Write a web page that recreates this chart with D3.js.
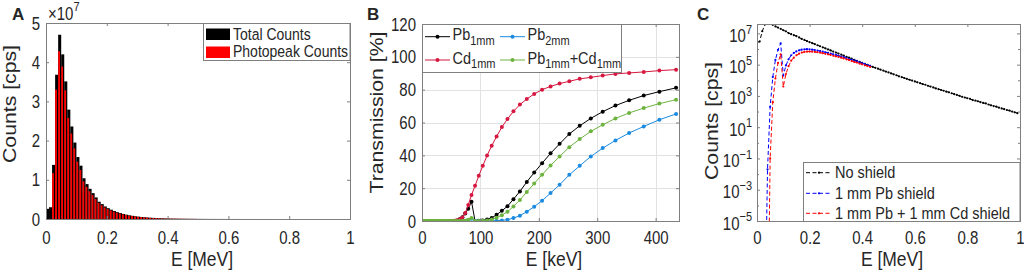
<!DOCTYPE html>
<html lang="en">
<head>
<meta charset="UTF-8">
<title>Counts and transmission</title>
<script src="https://cdn.jsdelivr.net/npm/d3@7"></script>
<style>
    body { margin: 0; background: #fff; }
    svg { display: block; }
</style>
</head>
<body>
<script>
    // ---- panel A / C : spectrum in 0.01 MeV bins (left edge of each bin) ----
    var binEnergy = [
        0.00, 0.01, 0.02, 0.03, 0.04, 0.05, 0.06, 0.07, 0.08, 0.09,
        0.10, 0.11, 0.12, 0.13, 0.14, 0.15, 0.16, 0.17, 0.18, 0.19,
        0.20, 0.21, 0.22, 0.23, 0.24, 0.25, 0.26, 0.27, 0.28, 0.29,
        0.30, 0.31, 0.32, 0.33, 0.34, 0.35, 0.36, 0.37, 0.38, 0.39,
        0.40, 0.41, 0.42, 0.43, 0.44, 0.45, 0.46, 0.47, 0.48, 0.49,
        0.50, 0.51, 0.52, 0.53, 0.54, 0.55, 0.56, 0.57, 0.58, 0.59,
        0.60, 0.61, 0.62, 0.63, 0.64, 0.65, 0.66, 0.67, 0.68, 0.69,
        0.70, 0.71, 0.72, 0.73, 0.74, 0.75, 0.76, 0.77, 0.78, 0.79,
        0.80, 0.81, 0.82, 0.83, 0.84, 0.85, 0.86, 0.87, 0.88, 0.89,
        0.90, 0.91, 0.92, 0.93, 0.94, 0.95, 0.96, 0.97, 0.98, 0.99
    ];
    // total counts (cps), also the "No shield" curve of panel C
    var totalCounts = [
        2.6e6, 3.0e6, 1.38e7, 3.68e7, 4.70e7, 4.20e7, 3.51e7, 2.79e7, 2.36e7, 1.95e7,
        1.58e7, 1.36e7, 1.04e7, 8.9e6, 7.7e6, 6.6e6, 5.5e6, 4.4e6, 3.8e6, 3.2e6,
        2.75e6, 2.37e6, 2.04e6, 1.74e6, 1.50e6, 1.29e6, 1.10e6, 9.4e5, 8.1e5, 6.9e5,
        6.0e5, 5.1e5, 4.4e5, 3.8e5, 3.2e5, 2.8e5, 2.4e5, 2.0e5, 1.76e5, 1.5e5,
        1.3e5, 1.12e5, 9.7e4, 8.3e4, 7.2e4, 6.3e4, 5.5e4, 4.8e4, 4.2e4, 3.6e4,
        3.2e4, 2.75e4, 2.4e4, 2.1e4, 1.8e4, 1.6e4, 1.4e4, 1.23e4, 1.08e4, 9550,
        8400, 7400, 6500, 5750, 5200, 4470, 3940, 3470, 3000, 2720,
        2400, 2140, 1880, 1700, 1480, 1300, 1150, 1020, 880, 795,
        708, 650, 545, 501, 455, 398, 355, 330, 282, 251,
        224, 205, 178, 158, 141, 126, 115, 100, 89, 79
    ];
    // photopeak counts (cps), first 50 bins
    var photopeakCounts = [
        0, 0, 1.17e7, 3.30e7, 4.28e7, 3.89e7, 3.28e7, 2.58e7, 2.18e7, 1.80e7,
        1.46e7, 1.25e7, 9.6e6, 8.2e6, 7.1e6, 6.1e6, 5.1e6, 4.1e6, 3.5e6, 2.95e6,
        2.53e6, 2.18e6, 1.88e6, 1.60e6, 1.38e6, 1.19e6, 1.01e6, 8.6e5, 7.5e5, 6.3e5,
        5.5e5, 4.7e5, 4.0e5, 3.5e5, 2.9e5, 2.6e5, 2.2e5, 1.8e5, 1.6e5, 1.4e5,
        1.2e5, 1.0e5, 9.0e4, 7.6e4, 6.6e4, 5.8e4, 5.0e4, 4.4e4, 3.9e4, 3.3e4
    ];

    // ---- panel B : transmission [%] ----
    var energyKeV = [
        4.2, 4.5, 4.9, 5.2, 5.6, 6.0, 6.4, 6.8, 7.3, 7.8,
        8.4, 9.0, 9.6, 10.3, 11.0, 11.8, 12.6, 13.5, 14.4, 15.4,
        16.5, 17.7, 18.9, 20.3, 21.7, 23.2, 24.9, 26.6, 28.5, 30.5,
        32.7, 35.0, 37.4, 40.1, 42.9, 45.9, 49.2, 52.6, 56.3, 60.3,
        64.6, 69.1, 74.0, 79.2, 84.8, 90.8, 97.2, 104.1, 111.4, 119.3,
        127.7, 136.7, 146.3, 156.6, 167.6, 179.4, 192.1, 205.6, 220.1, 235.6,
        252.2, 270.0, 289.0, 309.4, 331.2, 354.6, 379.6, 406.4, 435.0
    ];
    var pb1mm = [
        0, 0, 0, 0, 0, 0, 0, 0, 0, 0,
        0, 0, 0, 0, 0, 0, 0, 0, 0, 0,
        0, 0, 0, 0, 0, 0, 0, 0, 0, 0,
        0, 0, 0, 0, 0, 0, 0, 0, 0.1, 0.35,
        1.0, 2.3, 4.5, 7.5, 11.8, 0.05, 0.1, 0.3, 0.9, 1.9,
        3.8, 6.2, 9.0, 13.3, 18.0, 23.8, 29.5, 35.2, 41.2, 47.0,
        53.0, 58.0, 62.5, 66.6, 70.3, 73.5, 76.4, 78.8, 81.1
    ];
    var pb2mm = [
        0, 0, 0, 0, 0, 0, 0, 0, 0, 0,
        0, 0, 0, 0, 0, 0, 0, 0, 0, 0,
        0, 0, 0, 0, 0, 0, 0, 0, 0, 0,
        0, 0, 0, 0, 0, 0, 0, 0, 0, 0,
        0.01, 0.05, 0.2, 0.56, 1.4, 0, 0, 0, 0.01, 0.04,
        0.14, 0.38, 0.81, 1.77, 3.24, 5.66, 8.7, 12.4, 17.0, 22.1,
        28.1, 33.6, 39.3, 44.4, 49.1, 53.6, 57.6, 61.7, 65.2
    ];
    var cd1mm = [
        0, 0, 0, 0, 0, 0, 0, 0, 0, 0,
        0, 0, 0, 0, 0, 0, 0, 0, 0, 0,
        0, 0, 0, 0, 0, 0, 0, 0, 0, 0,
        0, 0, 0, 0, 0, 0, 0, 0.05, 0.15, 0.4,
        1.0, 2.2, 4.8, 9.8, 15.9, 21.4, 27.5, 33.6, 39.9, 45.8,
        51.5, 57.2, 62.1, 66.8, 70.9, 74.3, 77.4, 80.0, 82.0, 83.7,
        85.1, 86.6, 87.5, 88.6, 89.6, 90.2, 90.8, 91.6, 92.2
    ];
    var pb1cd1 = [
        0, 0, 0, 0, 0, 0, 0, 0, 0, 0,
        0, 0, 0, 0, 0, 0, 0, 0, 0, 0,
        0, 0, 0, 0, 0, 0, 0, 0, 0, 0,
        0, 0, 0, 0, 0, 0, 0, 0, 0, 0,
        0.01, 0.05, 0.2, 0.7, 1.9, 0.01, 0.03, 0.1, 0.36, 0.87,
        1.96, 3.55, 5.6, 8.9, 12.8, 17.7, 22.8, 28.2, 33.8, 39.3,
        45.0, 49.9, 54.6, 58.6, 62.5, 65.8, 68.8, 71.5, 73.9
    ];

    // ---- panel C : shielded spectra (cps) ----
    var shieldEnergy = [
        0.03, 0.04, 0.05, 0.06, 0.07, 0.08, 0.09, 0.10, 0.11, 0.12,
        0.13, 0.14, 0.15, 0.16, 0.17, 0.18, 0.19, 0.20, 0.21, 0.22,
        0.23, 0.24, 0.25, 0.26, 0.27, 0.28, 0.29, 0.30, 0.31, 0.32,
        0.33, 0.34, 0.35, 0.36, 0.37, 0.38, 0.39, 0.40, 0.41, 0.42, 0.43
    ];
    var pbShield = [
        1e-12, 2e-2, 2e2, 1.6e4, 2e5, 8.9e5, 2.3e6, 2e4, 8.9e4, 2.2e5,
        4e5, 5.6e5, 7.1e5, 8.3e5, 9.1e5, 9.5e5, 9.8e5, 9.5e5, 9.1e5, 8.5e5,
        7.9e5, 7.4e5, 6.8e5, 6.2e5, 5.6e5, 5.1e5, 4.6e5, 4.2e5, 3.7e5, 3.3e5,
        3.0e5, 2.6e5, 2.3e5, 2.0e5, 1.8e5, 1.6e5, 1.4e5, 1.2e5, 1.1e5, 9.5e4, 8.5e4
    ];
    var pbCdShield = [
        1e-20, 1e-14, 0.1, 4e2, 1.3e4, 1.3e5, 4.5e5, 4e3, 2.5e4, 8e4,
        1.8e5, 2.8e5, 4e5, 5e5, 5.9e5, 6.5e5, 6.8e5, 6.9e5, 6.8e5, 6.5e5,
        6.2e5, 5.8e5, 5.4e5, 4.9e5, 4.6e5, 4.2e5, 3.7e5, 3.4e5, 3.1e5, 2.8e5,
        2.5e5, 2.2e5, 1.95e5, 1.7e5, 1.5e5, 1.35e5, 1.17e5, 1.05e5, 9.1e4, 8.1e4, 7.2e4
    ];

    // ---- ticks ----
    var ticksMeV = [0, 0.2, 0.4, 0.6, 0.8, 1];
    var ticksMeVLabels = ['0', '0.2', '0.4', '0.6', '0.8', '1'];
    var ticksCountsA = [0, 1e7, 2e7, 3e7, 4e7, 5e7];
    var ticksCountsALabels = ['0', '1', '2', '3', '4', '5'];
    var ticksKeV = [0, 100, 200, 300, 400];
    var ticksKeVLabels = ['0', '100', '200', '300', '400'];
    var ticksTrans = [0, 20, 40, 60, 80, 100, 120];
    var ticksTransLabels = ['0', '20', '40', '60', '80', '100', '120'];
    var logExpMajor = [7, 5, 3, 1, -1, -3, -5];
    var logExpMinor = [6, 4, 2, 0, -2, -4];

    var width = 1024, height = 273;
    var SY = 1.18;   // the original figure was squashed sideways: text is taller than wide
    var FONT = '"Liberation Sans", Arial, sans-serif';
    var axisColor = '#7f7f7f', textColor = '#262626';

    var svg = d3.select('body').append('svg')
            .attr('width', width)
            .attr('height', height)
            .style('font-family', FONT);
    var defs = svg.append('defs');

    function addText(x, y, str, size, anchor, weight, sy) {
        return svg.append('text')
                .attr('transform', 'translate(' + x + ',' + y + ') scale(1,' + (sy || SY) + ')')
                .attr('text-anchor', anchor || 'start')
                .attr('fill', textColor)
                .style('font-family', FONT)
                .style('font-size', size + 'px')
                .style('font-weight', weight || 'normal')
                .text(str);
    }
    function addYLabel(x, y, str) {
        svg.append('text')
                .attr('transform', 'translate(' + x + ',' + y + ') scale(1,' + SY + ') rotate(-90)')
                .attr('text-anchor', 'middle')
                .attr('dy', '0.35em')
                .attr('fill', textColor)
                .style('font-family', FONT)
                .style('font-size', '18px')
                .text(str);
    }
    function styleAxis(sel) {
        sel.select('.domain').remove();
        sel.selectAll('.tick line').attr('stroke', axisColor);
        sel.selectAll('.tick text')
                .attr('fill', textColor)
                .style('font-size', '15px')
                .style('font-family', FONT);
    }
    function stretchBottom(sel, dy) {
        sel.selectAll('.tick text').attr('y', null).attr('dy', null)
                .attr('transform', 'translate(0,' + dy + ') scale(1,' + SY + ')');
    }
    function stretchLeft(sel) {
        sel.selectAll('.tick text').attr('x', null).attr('dy', null)
                .attr('transform', 'translate(-6,6) scale(1,' + SY + ')');
    }
    // box with inward ticks on all four sides
    function drawAxes(g, xs, ys, xTicks, xLabels, yTicks, yLabels) {
        var x0 = xs.range()[0], x1 = xs.range()[1];
        var y0 = ys.range()[0], y1 = ys.range()[1];
        g.append('g').attr('transform', 'translate(0,' + y0 + ')')
                .call(d3.axisBottom(xs).tickValues(xTicks).tickSize(-3)
                        .tickFormat(function (d, i) { return xLabels[i]; }))
                .call(styleAxis).call(stretchBottom, 244 - y0);
        g.append('g').attr('transform', 'translate(0,' + y1 + ')')
                .call(d3.axisTop(xs).tickValues(xTicks).tickSize(-3).tickFormat(''))
                .call(styleAxis);
        var left = g.append('g').attr('transform', 'translate(' + x0 + ',0)')
                .call(d3.axisLeft(ys).tickValues(yTicks).tickSize(-3)
                        .tickFormat(function (d, i) { return yLabels ? yLabels[i] : ''; }))
                .call(styleAxis);
        if (yLabels) left.call(stretchLeft);
        g.append('g').attr('transform', 'translate(' + x1 + ',0)')
                .call(d3.axisRight(ys).tickValues(yTicks).tickSize(-3).tickFormat(''))
                .call(styleAxis);
        g.append('rect')
                .attr('x', x0 + 0.5).attr('y', y1 + 0.5)
                .attr('width', x1 - x0).attr('height', y0 - y1)
                .attr('fill', 'none').attr('stroke', axisColor);
    }
    function clipRect(id, xs, ys) {
        defs.append('clipPath').attr('id', id).append('rect')
                .attr('x', xs.range()[0]).attr('y', ys.range()[1])
                .attr('width', xs.range()[1] - xs.range()[0])
                .attr('height', ys.range()[0] - ys.range()[1]);
        return 'url(#' + id + ')';
    }

    // =================== A ===================
    var xA = d3.scaleLinear().domain([0, 1]).range([46, 350]);
    var yA = d3.scaleLinear().domain([0, 5e7]).range([219, 23]);
    var gA = svg.append('g');
    var binW = xA(binEnergy[1]) - xA(binEnergy[0]);

    gA.selectAll('.totalBar')
            .data(totalCounts)
            .enter()
            .append('rect')
            .attr('class', 'totalBar')
            .attr('x', function (d, i) { return xA(binEnergy[i]); })
            .attr('width', binW)
            .attr('y', function (d) { return yA(d); })
            .attr('height', function (d) { return yA(0) - yA(d); })
            .attr('fill', '#000');
    gA.selectAll('.peakBar')
            .data(photopeakCounts)
            .enter()
            .append('rect')
            .attr('class', 'peakBar')
            .attr('x', function (d, i) { return xA(binEnergy[i]); })
            .attr('width', binW * 0.6)
            .attr('y', function (d) { return yA(d); })
            .attr('height', function (d) { return yA(0) - yA(d); })
            .attr('fill', '#ff0000');

    drawAxes(gA, xA, yA, ticksMeV, ticksMeVLabels, ticksCountsA, ticksCountsALabels);

    // x10^7
    var expA = addText(48, 19.5, '\u00d710', 15);
    expA.append('tspan').attr('dy', -7).style('font-size', '11px').text('7');

    // legend A
    gA.append('rect').attr('x', 203.5).attr('y', 23.5).attr('width', 146.5).attr('height', 37)
            .attr('fill', '#fff').attr('stroke', axisColor);
    gA.append('rect').attr('x', 206).attr('y', 28.5).attr('width', 24).attr('height', 11.5).attr('fill', '#000');
    gA.append('rect').attr('x', 206).attr('y', 46.5).attr('width', 24).attr('height', 11.5).attr('fill', '#ff0000');
    addText(233, 39.5, 'Total Counts', 14);
    addText(233, 57, 'Photopeak Counts', 14);

    addText(12, 19.5, 'A', 17, 'start', 'bold', 1);
    addText(xA(0.5) + 4, 266, 'E [MeV]', 17.5, 'middle');
    addYLabel(10, 104, 'Counts [cps]');

    // =================== B ===================
    var xB = d3.scaleLinear().domain([0, 440]).range([422, 679]);
    var yB = d3.scaleLinear().domain([0, 120]).range([221, 24]);
    var gB = svg.append('g');

    // grid
    gB.selectAll('.gridX').data(ticksKeV.slice(1)).enter().append('line')
            .attr('x1', function (d) { return Math.round(xB(d)) + 0.5; })
            .attr('x2', function (d) { return Math.round(xB(d)) + 0.5; })
            .attr('y1', yB(120)).attr('y2', yB(0))
            .attr('stroke', '#e2e2e2');
    gB.selectAll('.gridY').data(ticksTrans.slice(1, -1)).enter().append('line')
            .attr('y1', function (d) { return Math.round(yB(d)) + 0.5; })
            .attr('y2', function (d) { return Math.round(yB(d)) + 0.5; })
            .attr('x1', xB(0)).attr('x2', xB(440))
            .attr('stroke', '#e2e2e2');

    var seriesB = [
        {name: 'pb1', values: pb1mm, color: '#000000'},
        {name: 'pb2', values: pb2mm, color: '#1a8be0'},
        {name: 'cd1', values: cd1mm, color: '#d6173f'},
        {name: 'pbcd', values: pb1cd1, color: '#6db33f'}
    ];
    var lineB = d3.line()
            .x(function (d, i) { return xB(energyKeV[i]); })
            .y(function (d) { return yB(d); });
    var clipB = clipRect('clipB', xB, yB);
    seriesB.forEach(function (s) {
        var g = gB.append('g').attr('clip-path', clipB);
        g.append('path').attr('d', lineB(s.values))
                .attr('fill', 'none').attr('stroke', s.color).attr('stroke-width', 1);
        g.selectAll('circle').data(s.values).enter().append('circle')
                .attr('cx', function (d, i) { return xB(energyKeV[i]); })
                .attr('cy', function (d) { return yB(d); })
                .attr('r', 2)
                .attr('fill', s.color);
    });

    drawAxes(gB, xB, yB, ticksKeV, ticksKeVLabels, ticksTrans, ticksTransLabels);

    // legend B
    gB.append('rect').attr('x', 422.5).attr('y', 24.5).attr('width', 199).attr('height', 48)
            .attr('fill', '#fff').attr('stroke', axisColor);
    var legB = [
        {c: seriesB[0].color, x: 425, y: 36.7, parts: ['Pb', '1mm']},
        {c: seriesB[1].color, x: 500, y: 36.7, parts: ['Pb', '2mm']},
        {c: seriesB[2].color, x: 425, y: 60, parts: ['Cd', '1mm']},
        {c: seriesB[3].color, x: 500, y: 60, parts: ['Pb', '1mm', '+Cd', '1mm']}
    ];
    legB.forEach(function (e) {
        gB.append('line').attr('x1', e.x).attr('x2', e.x + 25).attr('y1', e.y).attr('y2', e.y)
                .attr('stroke', e.c).attr('stroke-width', 1);
        gB.append('circle').attr('cx', e.x + 12.5).attr('cy', e.y).attr('r', 2).attr('fill', e.c);
        var t = addText(e.x + 27.5, e.y + 3.5, '', 14.5);
        e.parts.forEach(function (p, k) {
            var sub = k % 2 === 1;
            t.append('tspan')
                    .attr('dy', k === 0 ? 0 : (sub ? 4 : -4))
                    .style('font-size', sub ? '11px' : '14.5px')
                    .text(p);
        });
    });

    addText(367, 19.5, 'B', 17, 'start', 'bold', 1);
    addText(554, 266, 'E [keV]', 17.5, 'middle');
    addYLabel(376.5, 112.5, 'Transmission [%]');

    // =================== C ===================
    var xC = d3.scaleLinear().domain([0, 1]).range([757, 1020]);
    var yC = d3.scaleLog().domain([1e-5, Math.pow(10, 7.6)]).range([221, 24]);
    var gC = svg.append('g');
    var clipC = clipRect('clipC', xC, yC);

    var seriesC = [
        {x: binEnergy, values: totalCounts, color: '#000000'},
        {x: shieldEnergy, values: pbShield, color: '#0000ff'},
        {x: shieldEnergy, values: pbCdShield, color: '#ff0000'}
    ];
    seriesC.forEach(function (s) {
        var g = gC.append('g').attr('clip-path', clipC);
        var line = d3.line()
                .x(function (d, i) { return xC(s.x[i]); })
                .y(function (d) { return yC(d); });
        g.append('path').attr('d', line(s.values))
                .attr('fill', 'none').attr('stroke', s.color)
                .attr('stroke-width', 1).attr('stroke-dasharray', '4,2.5');
        g.selectAll('circle').data(s.values).enter().append('circle')
                .attr('cx', function (d, i) { return xC(s.x[i]); })
                .attr('cy', function (d) { return yC(d); })
                .attr('r', 1.1)
                .attr('fill', s.color);
    });

    var majorVals = logExpMajor.map(function (e) { return Math.pow(10, e); });
    var minorVals = logExpMinor.map(function (e) { return Math.pow(10, e); });
    drawAxes(gC, xC, yC, ticksMeV, ticksMeVLabels, majorVals, null);
    gC.append('g').attr('transform', 'translate(' + xC.range()[0] + ',0)')
            .call(d3.axisLeft(yC).tickValues(minorVals).tickSize(-2).tickFormat(''))
            .call(styleAxis);
    gC.append('g').attr('transform', 'translate(' + xC.range()[1] + ',0)')
            .call(d3.axisRight(yC).tickValues(minorVals).tickSize(-2).tickFormat(''))
            .call(styleAxis);
    logExpMajor.forEach(function (e) {
        var t = addText(752, yC(Math.pow(10, e)) + 8.5, '10', 15, 'end');
        t.append('tspan').attr('dy', -7).style('font-size', '11px').text(String(e).replace('-', '\u2212'));
    });

    // legend C
    gC.append('rect').attr('x', 803.5).attr('y', 162.5).attr('width', 216.5).attr('height', 59)
            .attr('fill', '#fff').attr('stroke', axisColor);
    var legC = [
        {c: '#000000', y: 172.7, label: 'No shield'},
        {c: '#0000ff', y: 193.3, label: '1 mm Pb shield'},
        {c: '#ff0000', y: 213.3, label: '1 mm Pb + 1 mm Cd shield'}
    ];
    legC.forEach(function (e) {
        gC.append('line').attr('x1', 806).attr('x2', 832).attr('y1', e.y).attr('y2', e.y)
                .attr('stroke', e.c).attr('stroke-dasharray', '4,2.5');
        gC.append('circle').attr('cx', 819).attr('cy', e.y).attr('r', 1.1).attr('fill', e.c);
        addText(835, e.y + 5.5, e.label, 14.5);
    });

    addText(697, 19.5, 'C', 17, 'start', 'bold', 1);
    addText(892, 266, 'E [MeV]', 17.5, 'middle');
    addYLabel(711.5, 121, 'Counts [cps]');
</script>
</body>
</html>
